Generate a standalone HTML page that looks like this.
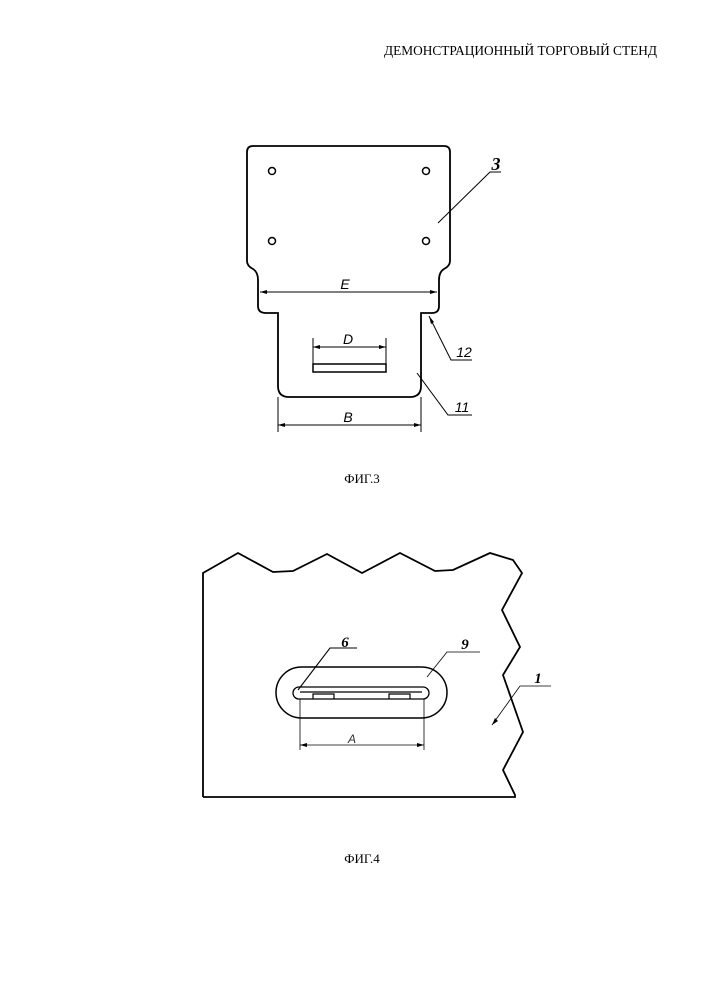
<!DOCTYPE html>
<html><head><meta charset="utf-8"><style>
html,body{margin:0;padding:0;background:#fff;}
svg{display:block}
</style></head><body>
<svg width="707" height="1000" viewBox="0 0 707 1000" xmlns="http://www.w3.org/2000/svg">
<text x="657" y="55" text-anchor="end" font-family="Liberation Serif, serif" font-size="13.5" textLength="273" lengthAdjust="spacingAndGlyphs">ДЕМОНСТРАЦИОННЫЙ ТОРГОВЫЙ СТЕНД</text>

<g fill="none" stroke="#000" stroke-width="1.8">
<path d="M253,146 L444,146 Q450,146 450,152 L450,261 Q450,266 444,269 Q439,272 439,280 L439,306 Q439,313 432,313 L421,313 L421,386 Q421,397 410,397 L289,397 Q278,397 278,386 L278,313 L266,313 Q258,313 258,306 L258,280 Q258,272 253,269 Q247,266 247,261 L247,152 Q247,146 253,146 Z"/>
<circle cx="272" cy="171" r="3.5" stroke-width="1.5"/>
<circle cx="426" cy="171" r="3.5" stroke-width="1.5"/>
<circle cx="272" cy="241" r="3.5" stroke-width="1.5"/>
<circle cx="426" cy="241" r="3.5" stroke-width="1.5"/>
<rect x="313" y="364" width="73" height="8" stroke-width="1.5"/>
</g>
<g stroke="#000" stroke-width="1" fill="none">
<line x1="260" y1="292" x2="437" y2="292"/>
<line x1="313" y1="338" x2="313" y2="364"/>
<line x1="386" y1="338" x2="386" y2="364"/>
<line x1="313" y1="347" x2="386" y2="347"/>
<line x1="278" y1="397" x2="278" y2="432"/>
<line x1="421" y1="397" x2="421" y2="432"/>
<line x1="278" y1="425" x2="421" y2="425"/>
<polyline points="438,223 490,172 501,172"/>
<polyline points="429,316 451,360 472,360"/>
<polyline points="417,373 448,415 472,415"/>
</g>
<g fill="#000">
<polygon points="260,292 267,290 267,294"/><polygon points="437,292 430,290 430,294"/>
<polygon points="313,347 320,345 320,349"/><polygon points="386,347 379,345 379,349"/>
<polygon points="278,425 285,423 285,427"/><polygon points="421,425 414,423 414,427"/>
<polygon points="429,316 431,324 434,322"/>
</g>
<g font-family="Liberation Sans, sans-serif" font-style="italic" font-size="14" text-anchor="middle">
<text x="345" y="289">E</text>
<text x="348" y="344">D</text>
<text x="348" y="422">B</text>
<text x="464" y="357">12</text>
<text x="462" y="412">11</text>
</g>
<text x="496" y="170" font-family="Liberation Serif, serif" font-weight="bold" font-style="italic" font-size="18" text-anchor="middle">3</text>
<text x="362" y="483" font-family="Liberation Serif, serif" font-size="13" text-anchor="middle">ФИГ.3</text>

<g fill="none" stroke="#000" stroke-width="1.8">
<polyline points="203,797 203,573 238,553 273,572 293,571 327,554 362,573 400,553 435,571 453,570 490,553 513,560 522,573 502,610 520,647 503,675 523,732 503,770 515,795 515,797 203,797"/>
<rect x="276" y="667" width="171" height="51" rx="25.5" stroke-width="1.5"/>
<rect x="293" y="687" width="136" height="12" rx="6" stroke-width="1.3"/>
<polyline points="300,692 422,692" stroke-width="1.2"/>
<polyline points="313,699 313,694 334,694 334,699" stroke-width="1.2"/>
<polyline points="389,699 389,694 410,694 410,699" stroke-width="1.2"/>
</g>
<g stroke="#000" stroke-width="0.8" fill="none">
<line x1="300" y1="699" x2="300" y2="750"/>
<line x1="424" y1="699" x2="424" y2="750"/>
<line x1="300" y1="745" x2="424" y2="745"/>
<polyline points="298,690 330,648 357,648" stroke-width="1.1"/>
<polyline points="427,677 447,652 480,652"/>
<polyline points="492,725 520,686 551,686"/>
</g>
<g fill="#000">
<polygon points="300,745 307,743 307,747"/><polygon points="424,745 417,743 417,747"/>
<polygon points="492,725 495,718 498,721"/>
</g>
<text x="352" y="743" font-family="Liberation Sans, sans-serif" font-style="italic" font-size="12" text-anchor="middle" fill="#333">A</text>
<g font-family="Liberation Serif, serif" font-weight="bold" font-style="italic" font-size="15" text-anchor="middle">
<text x="345" y="647">6</text>
<text x="465" y="649">9</text>
<text x="538" y="683">1</text>
</g>
<text x="362" y="863" font-family="Liberation Serif, serif" font-size="13" text-anchor="middle">ФИГ.4</text>
</svg>
</body></html>
